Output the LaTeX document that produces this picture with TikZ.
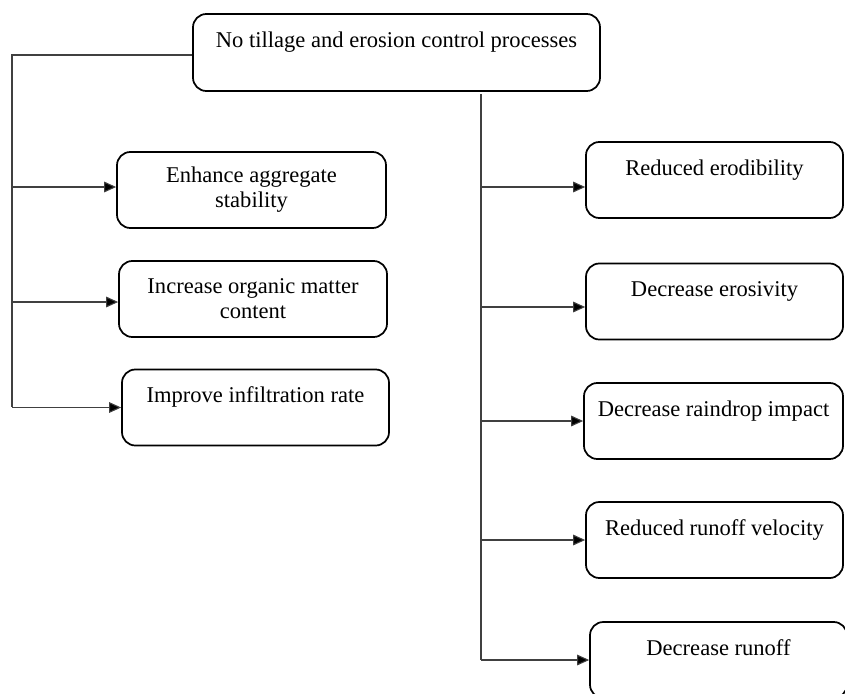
\documentclass[tikz,border=0pt]{standalone}
\usepackage{fontspec}
\setmainfont{Liberation Serif}
\usepackage{tikz}
\usetikzlibrary{arrows.meta, positioning, calc}

\tikzset{
    procbox/.style={draw, line width=1.3pt, rounded corners=10pt, align=center,
        inner sep=0pt, minimum height=76*0.75pt, font=\fontsize{16.9}{18.75}\selectfont},
    link/.style={black!75, line width=0.8pt},
    arrowlink/.style={link, -{Triangle[length=9pt, width=8pt, fill=black]}}
}

\begin{document}
\begin{tikzpicture}[x=0.75pt, y=-0.75pt]

    \useasboundingbox (0,0) rectangle (845,693);

    % Top box
    \node[procbox, minimum width=407*0.75pt, minimum height=77*0.75pt] (top) at (396.5,52.5)
        {No tillage and erosion control processes\\\mbox{}};

    % Soil property boxes (left)
    \node[procbox, minimum width=269*0.75pt] (aggr) at (251.5,190) {Enhance aggregate\\stability};
    \node[procbox, minimum width=268*0.75pt] (organic) at (253,299) {Increase organic matter\\content};
    \node[procbox, minimum width=267*0.75pt] (infil) at (255.5,407.5) {Improve infiltration rate\\\mbox{}};

    % Erosion process boxes (right)
    \node[procbox, minimum width=257*0.75pt] (erodib) at (714.5,180) {Reduced erodibility\\\mbox{}};
    \node[procbox, minimum width=257*0.75pt] (erosiv) at (714.5,301.5) {Decrease erosivity\\\mbox{}};
    \node[procbox, minimum width=259*0.75pt] (raindrop) at (713.5,421) {Decrease raindrop impact\\\mbox{}};
    \node[procbox, minimum width=257*0.75pt] (velocity) at (714.5,540) {Reduced runoff velocity\\\mbox{}};
    \node[procbox, minimum width=257*0.75pt] (runoff) at (718.5,660) {Decrease runoff\\\mbox{}};

    % Left trunk
    \coordinate (lend) at (12,407);
    \draw[link] ($(top.west)+(0,2.5)$) -| (lend);
    \foreach \b/\d in {aggr/-3, organic/3, infil/0}
        \draw[arrowlink] (lend |- {$(\b.west)+(0,\d)$}) -- ($(\b.west)+(0,\d)$);

    % Right trunk
    \coordinate (rtop) at (481,94);
    \coordinate (rend) at (481,660);
    \draw[link] (rtop) -- (rend);
    \foreach \b/\d in {erodib/7, erosiv/5.5, raindrop/0, velocity/0, runoff/0}
        \draw[arrowlink] (rend |- {$(\b.west)+(0,\d)$}) -- ($(\b.west)+(0,\d)$);

\end{tikzpicture}
\end{document}
